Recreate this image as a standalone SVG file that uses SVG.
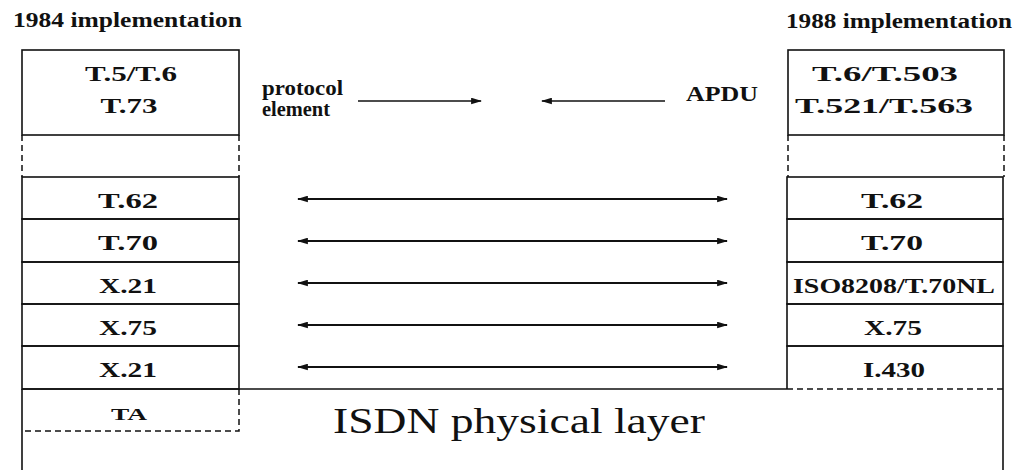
<svg xmlns="http://www.w3.org/2000/svg" width="1022" height="470" viewBox="0 0 1022 470">
  <style>
    .box { fill: none; stroke: #111; stroke-width: 1.6; }
    .dash { fill: none; stroke: #111; stroke-width: 1.5; stroke-dasharray: 6 4; }
    .lbl { font-family: "Liberation Serif", "DejaVu Serif", serif; font-weight: bold; font-size: 21px; fill: #111; text-anchor: middle; }
    .hdr { font-family: "Liberation Serif", "DejaVu Serif", serif; font-weight: bold; font-size: 20px; fill: #111; }
    .big { font-family: "Liberation Serif", "DejaVu Serif", serif; font-size: 35px; fill: #111; }
    .arr { stroke: #111; stroke-width: 2; fill: none; }
    .arr-thin { stroke: #111; stroke-width: 1.4; fill: none; }
  </style>
  <defs>
    <marker id="head" viewBox="0 0 10 6" refX="9" refY="3" markerWidth="11" markerHeight="7" markerUnits="userSpaceOnUse" orient="auto-start-reverse">
      <path d="M0,0 L10,3 L0,6 Z" fill="#111"/>
    </marker>
  </defs>
  <rect width="1022" height="470" fill="#fff"/>

  <!-- column headings -->
  <text class="hdr" x="13" y="27" textLength="229" lengthAdjust="spacingAndGlyphs">1984 implementation</text>
  <text class="hdr" x="786" y="28" textLength="226" lengthAdjust="spacingAndGlyphs">1988 implementation</text>

  <!-- physical layer underneath both stacks -->
  <g id="isdn-physical">
    <path class="box" d="M22,389 L787,389 M22,389 L22,470 M1003,389 L1003,470"/>
    <path class="dash" d="M787,389 L1003,389"/>
    <text class="big" x="333" y="433" textLength="372" lengthAdjust="spacingAndGlyphs">ISDN physical layer</text>
  </g>

  <!-- 1984 stack -->
  <g id="app-1984">
    <rect class="box" x="22" y="50" width="217" height="85"/>
    <text class="lbl" x="131" y="81" textLength="92" lengthAdjust="spacingAndGlyphs">T.5/T.6</text>
    <text class="lbl" x="129" y="113" textLength="57" lengthAdjust="spacingAndGlyphs">T.73</text>
    <path class="dash" d="M22,135 L22,177 M239,135 L239,177"/>
  </g>
  <g id="t62-1984">
    <rect class="box" x="22" y="177" width="217" height="42"/>
    <text class="lbl" x="128" y="208" textLength="60" lengthAdjust="spacingAndGlyphs">T.62</text>
  </g>
  <g id="t70-1984">
    <rect class="box" x="22" y="219" width="217" height="43"/>
    <text class="lbl" x="128" y="250" textLength="60" lengthAdjust="spacingAndGlyphs">T.70</text>
  </g>
  <g id="x21-1984">
    <rect class="box" x="22" y="262" width="217" height="42"/>
    <text class="lbl" x="128" y="293" textLength="58" lengthAdjust="spacingAndGlyphs">X.21</text>
  </g>
  <g id="x75-1984">
    <rect class="box" x="22" y="304" width="217" height="42"/>
    <text class="lbl" x="128" y="335" textLength="58" lengthAdjust="spacingAndGlyphs">X.75</text>
  </g>
  <g id="x21b-1984">
    <rect class="box" x="22" y="346" width="217" height="43"/>
    <text class="lbl" x="128" y="377" textLength="58" lengthAdjust="spacingAndGlyphs">X.21</text>
  </g>
  <g id="ta-1984">
    <path class="dash" d="M239,389 L239,431 L22,431"/>
    <text class="lbl" x="129" y="420" style="font-size:16px" textLength="36" lengthAdjust="spacingAndGlyphs">TA</text>
  </g>

  <!-- 1988 stack -->
  <g id="app-1988">
    <rect class="box" x="788" y="50" width="216" height="85"/>
    <text class="lbl" x="885" y="81" textLength="146" lengthAdjust="spacingAndGlyphs">T.6/T.503</text>
    <text class="lbl" x="884" y="113" textLength="178" lengthAdjust="spacingAndGlyphs">T.521/T.563</text>
    <path class="dash" d="M788,135 L788,177 M1004,135 L1004,177"/>
  </g>
  <g id="t62-1988">
    <rect class="box" x="787" y="177" width="216" height="42"/>
    <text class="lbl" x="892" y="208" textLength="62" lengthAdjust="spacingAndGlyphs">T.62</text>
  </g>
  <g id="t70-1988">
    <rect class="box" x="787" y="219" width="216" height="43"/>
    <text class="lbl" x="892" y="250" textLength="62" lengthAdjust="spacingAndGlyphs">T.70</text>
  </g>
  <g id="nl-1988">
    <rect class="box" x="787" y="262" width="216" height="42"/>
    <text class="lbl" x="894" y="293" textLength="202" lengthAdjust="spacingAndGlyphs">ISO8208/T.70NL</text>
  </g>
  <g id="x75-1988">
    <rect class="box" x="787" y="304" width="216" height="42"/>
    <text class="lbl" x="893" y="335" textLength="58" lengthAdjust="spacingAndGlyphs">X.75</text>
  </g>
  <g id="i430-1988">
    <path class="box" d="M787,389 L787,346 L1003,346 L1003,389"/>
    <text class="lbl" x="894" y="377" textLength="62" lengthAdjust="spacingAndGlyphs">I.430</text>
  </g>

  <!-- upper-layer labels -->
  <g id="label-protocol-element">
    <text class="hdr" x="262" y="95" textLength="81" lengthAdjust="spacingAndGlyphs">protocol</text>
    <text class="hdr" x="262" y="116" textLength="68" lengthAdjust="spacingAndGlyphs">element</text>
  </g>
  <g id="label-apdu">
    <text class="hdr" x="686" y="101" textLength="72" lengthAdjust="spacingAndGlyphs">APDU</text>
  </g>

  <!-- peer-to-peer connectors -->
  <g id="connectors">
    <line class="arr-thin" x1="358" y1="101" x2="481" y2="101" marker-end="url(#head)"/>
    <line class="arr-thin" x1="665" y1="101" x2="542" y2="101" marker-end="url(#head)"/>
    <line class="arr" x1="298" y1="199" x2="727" y2="199" marker-start="url(#head)" marker-end="url(#head)"/>
    <line class="arr" x1="298" y1="241" x2="727" y2="241" marker-start="url(#head)" marker-end="url(#head)"/>
    <line class="arr" x1="298" y1="283" x2="727" y2="283" marker-start="url(#head)" marker-end="url(#head)"/>
    <line class="arr" x1="298" y1="325" x2="727" y2="325" marker-start="url(#head)" marker-end="url(#head)"/>
    <line class="arr" x1="298" y1="367" x2="727" y2="367" marker-start="url(#head)" marker-end="url(#head)"/>
  </g>
</svg>
